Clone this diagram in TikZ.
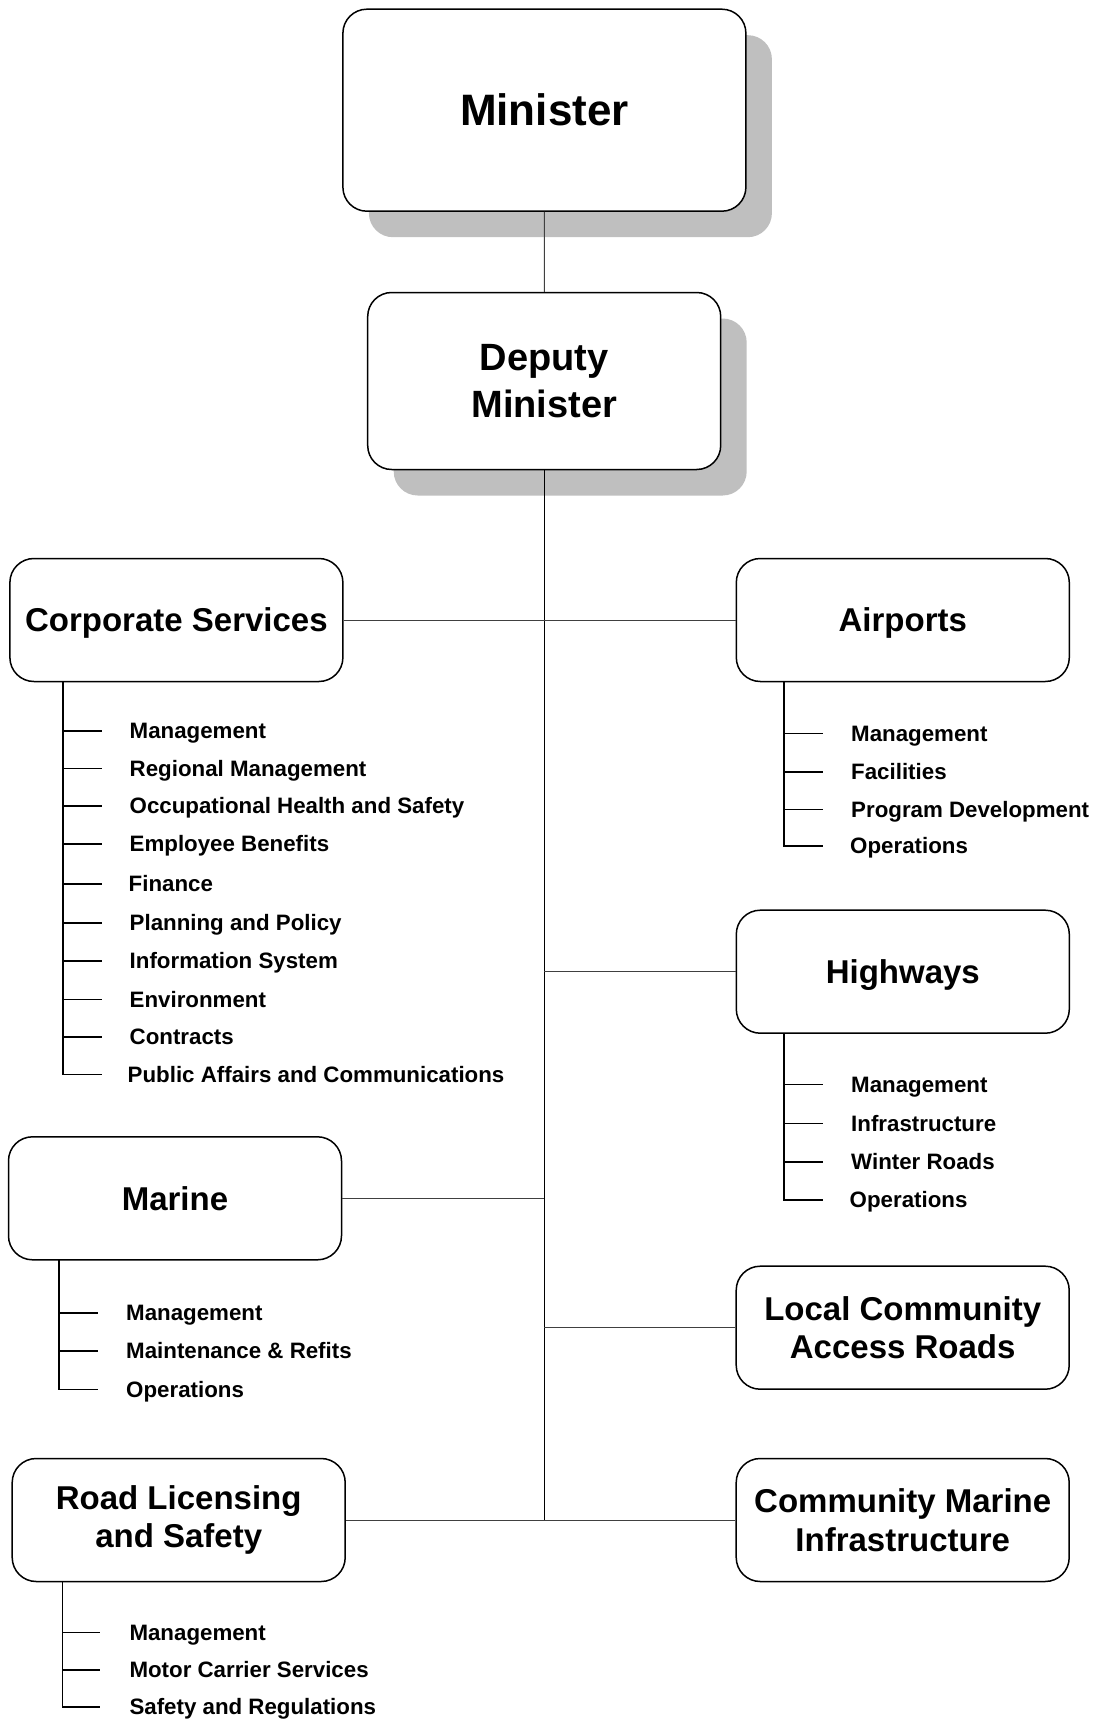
\documentclass[tikz,border=0pt]{standalone}
\usepackage{fontspec}
\setmainfont{Liberation Sans}
\usetikzlibrary{shadows}

\begin{document}
\begin{tikzpicture}[x=1pt,y=-1pt,
  boss/.style={draw,fill=white,line width=1.5pt,rounded corners=24pt,align=center,
    drop shadow={shadow xshift=26pt,shadow yshift=-26pt,fill=gray!50,opacity=1}},
  unit/.style={draw,fill=white,line width=1.5pt,rounded corners=24pt,align=center,
    minimum width=333,minimum height=123,font=\fontsize{33}{38.5}\selectfont\bfseries},
  item/.style={anchor=west,inner sep=0pt,text height=16pt,text depth=0.5pt,
    font=\fontsize{22.3}{26}\selectfont\bfseries},
  link/.style={draw=black!75,line width=1pt},
  tree/.style={line width=1.6pt}]

  \useasboundingbox (0,0) rectangle (1094,1723);

  % Top

  \node[boss,minimum width=403,minimum height=202,font=\fontsize{44}{50}\selectfont\bfseries] (min) at (544.4,110.2) {Minister};

  \node[boss,minimum width=353,minimum height=177,font=\fontsize{38}{47.7}\selectfont\bfseries] (dep) at (544.2,381) {Deputy\\Minister};

  \draw[link] (min) to (dep);

  % Divisions

  \node[unit,text depth=0pt] (corp) at (176.4,620) {Corporate Services};
  \node[unit,text depth=0pt] (air) at (902.8,620) {Airports};
  \node[unit,text depth=0pt] (hwy) at (902.8,971.7) {Highways};
  \node[unit] (mar) at (175,1198.3) {Marine};
  \node[unit] (lcar) at (902.7,1327.7) {Local Community\\Access Roads};
  \node[unit] (road) at (178.7,1520) {Road Licensing\\and Safety};
  \node[unit] (cmi) at (902.7,1520) {Community Marine\\Infrastructure};

  \draw[line width=1.3pt] (dep.south) to (dep.south |- road.east);

  \draw[link] (corp.east) to (corp.east -| dep.south);
  \draw[link] (air.west) to (air.west -| dep.south);
  \draw[link] (hwy.west) to (hwy.west -| dep.south);
  \draw[link] (mar.east) to (mar.east -| dep.south);
  \draw[link] (lcar.west) to (lcar.west -| dep.south);
  \draw[link] (road.east) to (cmi.west);

  % Corporate Services

  \coordinate (corpk) at (63,681.5);
  \node[item] (corp1) at (129.5,731) {Management};
  \node[item] (corp2) at (129.5,768.5) {Regional Management};
  \node[item] (corp3) at (129.5,806) {Occupational Health and Safety};
  \node[item] (corp4) at (129.5,844) {Employee Benefits};
  \node[item] (corp5) at (128.5,884) {Finance};
  \node[item] (corp6) at (129.5,923) {Planning and Policy};
  \node[item] (corp7) at (129.5,961) {Information System};
  \node[item] (corp8) at (129.5,999.5) {Environment};
  \node[item] (corp9) at (129.5,1037) {Contracts};
  \node[item] (corp10) at (127.5,1074.5) {Public Affairs and Communications};

  \draw[tree] (corpk |- corp1) to ([xshift=-28pt]corp1.west);
  \draw[tree] (corpk |- corp2) to ([xshift=-28pt]corp2.west);
  \draw[tree] (corpk |- corp3) to ([xshift=-28pt]corp3.west);
  \draw[tree] (corpk |- corp4) to ([xshift=-28pt]corp4.west);
  \draw[tree] (corpk |- corp5) to ([xshift=-27pt]corp5.west);
  \draw[tree] (corpk |- corp6) to ([xshift=-28pt]corp6.west);
  \draw[tree] (corpk |- corp7) to ([xshift=-28pt]corp7.west);
  \draw[tree] (corpk |- corp8) to ([xshift=-28pt]corp8.west);
  \draw[tree] (corpk |- corp9) to ([xshift=-28pt]corp9.west);
  \draw[tree] (corpk) |- ([xshift=-26pt]corp10.west);

  % Airports

  \coordinate (airk) at (784,681.5);
  \node[item] (air1) at (851,733.3) {Management};
  \node[item] (air2) at (851,771.7) {Facilities};
  \node[item] (air3) at (851,809.3) {Program Development};
  \node[item] (air4) at (850,845.7) {Operations};

  \draw[tree] (airk |- air1) to ([xshift=-28pt]air1.west);
  \draw[tree] (airk |- air2) to ([xshift=-28pt]air2.west);
  \draw[tree] (airk |- air3) to ([xshift=-28pt]air3.west);
  \draw[tree] (airk) |- ([xshift=-27pt]air4.west);

  % Highways

  \coordinate (hwyk) at (784,1033.2);
  \node[item] (hwy1) at (851,1084.3) {Management};
  \node[item] (hwy2) at (851,1123.3) {Infrastructure};
  \node[item] (hwy3) at (851,1161.7) {Winter Roads};
  \node[item] (hwy4) at (849.5,1200) {Operations};

  \draw[tree] (hwyk |- hwy1) to ([xshift=-28pt]hwy1.west);
  \draw[tree] (hwyk |- hwy2) to ([xshift=-28pt]hwy2.west);
  \draw[tree] (hwyk |- hwy3) to ([xshift=-28pt]hwy3.west);
  \draw[tree] (hwyk) |- ([xshift=-27pt]hwy4.west);

  % Marine

  \coordinate (mark) at (59,1260);
  \node[item] (mar1) at (126,1312.7) {Management};
  \node[item] (mar2) at (126,1350.7) {Maintenance \& Refits};
  \node[item] (mar3) at (126,1389.3) {Operations};

  \draw[tree] (mark |- mar1) to ([xshift=-28.5pt]mar1.west);
  \draw[tree] (mark |- mar2) to ([xshift=-28.5pt]mar2.west);
  \draw[tree] (mark) |- ([xshift=-28.5pt]mar3.west);

  % Road Licensing and Safety

  \coordinate (roadk) at (62.5,1581.7);
  \node[item] (road1) at (129.3,1632.3) {Management};
  \node[item] (road2) at (129.3,1670) {Motor Carrier Services};
  \node[item] (road3) at (129.3,1706.7) {Safety and Regulations};

  \draw[tree] (roadk |- road1) to ([xshift=-29pt]road1.west);
  \draw[tree] (roadk |- road2) to ([xshift=-29pt]road2.west);
  \draw[tree] (roadk) |- ([xshift=-29pt]road3.west);

\end{tikzpicture}
\end{document}
